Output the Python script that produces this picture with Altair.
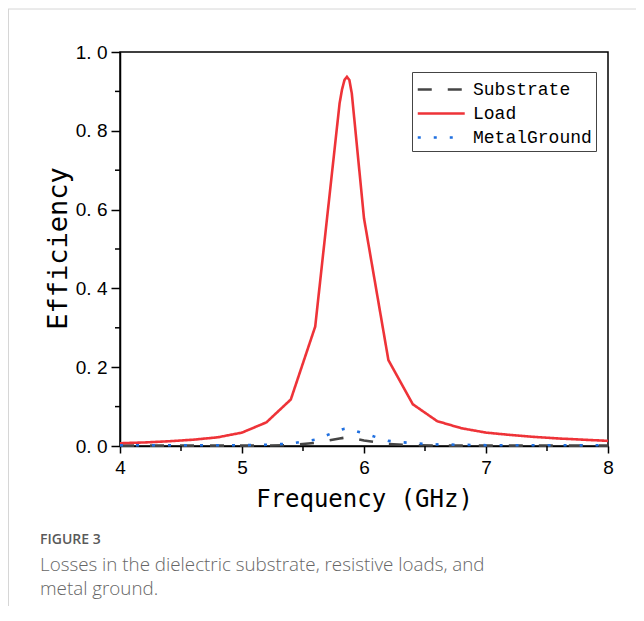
import altair as alt
import pandas as pd

# ---- data ----
freq = [4.0, 4.2, 4.4, 4.6, 4.8, 5.0, 5.2, 5.4, 5.6, 5.8, 5.82, 5.84, 5.86, 5.88,
        5.9, 6.0, 6.2, 6.4, 6.6, 6.8, 7.0, 7.2, 7.4, 7.6, 7.8, 8.0]
load = [0.007, 0.009, 0.012, 0.016, 0.022, 0.034, 0.060, 0.118, 0.303, 0.870, 0.905,
        0.929, 0.937, 0.929, 0.895, 0.578, 0.218, 0.106, 0.063, 0.045, 0.034, 0.028,
        0.023, 0.019, 0.016, 0.013]
substrate = [0.001, 0.001, 0.001, 0.001, 0.001, 0.001, 0.001, 0.002, 0.008, 0.019, 0.020,
             0.021, 0.022, 0.021, 0.020, 0.014, 0.005, 0.002, 0.001, 0.001, 0.001, 0.001,
             0.001, 0.001, 0.001, 0.001]
metal = [0.002, 0.002, 0.002, 0.002, 0.002, 0.002, 0.003, 0.006, 0.016, 0.040, 0.042,
         0.044, 0.045, 0.043, 0.041, 0.032, 0.013, 0.007, 0.004, 0.003, 0.002, 0.002,
         0.002, 0.002, 0.002, 0.002]
series_names = ["Substrate", "Load", "MetalGround"]
series_colors = ["#454545", "#ee3338", "#1f6fe0"]
series_dash = [[14, 16], [1, 0], [3, 13]]
x_ticks = [4, 5, 6, 7, 8]
y_ticks = [0.0, 0.2, 0.4, 0.6, 0.8, 1.0]
x_minor = [4.5, 5.5, 6.5, 7.5]
y_minor = [0.1, 0.3, 0.5, 0.7, 0.9]
caption_head = "FIGURE 3"
caption_lines = ["Losses in the dielectric substrate, resistive loads, and", "metal ground."]

rows = []
for name, vals in zip(series_names, [substrate, load, metal]):
    for f, v in zip(freq, vals):
        rows.append({"freq": f, "value": v, "series": name})
df = pd.DataFrame(rows)

W, H = 488, 394

xscale = alt.Scale(domain=[4, 8], nice=False, zero=False)
yscale = alt.Scale(domain=[0, 1], nice=False, zero=False)

xaxis = alt.Axis(
    values=x_ticks, format="d", title="Frequency (GHz)", grid=False, labelFlush=False,
    tickSize=7, tickWidth=1.5, tickColor="#000", domainColor="#000", domainWidth=1.5,
    labelFont="Liberation Sans", labelFontSize=19, labelColor="#000", labelPadding=5,
    titleFont="DejaVu Sans Mono", titleFontSize=24, titleFontWeight="normal",
    titleColor="#000", titleBaseline="alphabetic", titleY=60)
yaxis = alt.Axis(
    values=y_ticks, title="Efficiency", grid=False, labelFlush=False,
    labelExpr="replace(format(datum.value, '.1f'), '.', '. ')",
    tickSize=9, tickWidth=1.5, tickColor="#000", domainColor="#000", domainWidth=1.5,
    labelFont="Liberation Sans", labelFontSize=19, labelColor="#000", labelPadding=4,
    titleFont="DejaVu Sans Mono", titleFontSize=27, titleFontWeight="normal",
    titleColor="#000", titleBaseline="alphabetic", titleAlign="center",
    titleAngle=270, titleX=-54, titleY=196)

lines = alt.Chart(df).mark_line(strokeWidth=2.6).encode(
    x=alt.X("freq:Q", scale=xscale, axis=xaxis),
    y=alt.Y("value:Q", scale=yscale, axis=yaxis),
    color=alt.Color("series:N", scale=alt.Scale(domain=series_names, range=series_colors),
                    legend=alt.Legend(title=None)),
    strokeDash=alt.StrokeDash("series:N", scale=alt.Scale(domain=series_names, range=series_dash),
                              legend=alt.Legend(title=None)),
    order=alt.Order("series:N"),
)

ymin_df = pd.DataFrame({"value": y_minor})
y_minor_ticks = alt.Chart(ymin_df).mark_rule(color="#000", strokeWidth=1.5).encode(
    y=alt.Y("value:Q", scale=yscale, axis=yaxis),
    x=alt.value(-5), x2=alt.value(0))

xmin_df = pd.DataFrame({"freq": x_minor})
x_minor_ticks = alt.Chart(xmin_df).mark_rule(color="#000", strokeWidth=1.5).encode(
    x=alt.X("freq:Q", scale=xscale, axis=xaxis),
    y=alt.value(H), y2=alt.value(H + 5))

one = alt.Data(values=[{}])
border_left = alt.Chart(one).mark_rule(color="#d6d6d6", strokeWidth=1).encode(
    x=alt.value(-111.5), y=alt.value(-43), y2=alt.value(600))
border_top = alt.Chart(one).mark_rule(color="#d6d6d6", strokeWidth=1).encode(
    x=alt.value(-112), x2=alt.value(520), y=alt.value(-43))

cap0 = alt.Chart(one).mark_text(text=caption_head, align="left", baseline="middle",
                                font="Open Sans", fontSize=14, fontWeight=600, color="#5a5a5a").encode(
    x=alt.value(-80), y=alt.value(488))
cap1 = alt.Chart(one).mark_text(text=caption_lines[0], align="left", baseline="middle",
                                font="Open Sans", fontSize=18.8, fontWeight=300, color="#666666").encode(
    x=alt.value(-80), y=alt.value(513))
cap2 = alt.Chart(one).mark_text(text=caption_lines[1], align="left", baseline="middle",
                                font="Open Sans", fontSize=18.8, fontWeight=300, color="#666666").encode(
    x=alt.value(-80), y=alt.value(537))

chart = alt.layer(
    border_left, border_top, lines, y_minor_ticks, x_minor_ticks, cap0, cap1, cap2
).properties(
    width=W, height=H,
    autosize=alt.AutoSizeParams(type="none"),
    padding={"left": 112, "top": 44, "right": 28, "bottom": 160},
).configure_view(
    stroke="#000", strokeWidth=1.5
).configure_legend(
    orient="none", legendX=292, legendY=20, padding=4,
    strokeColor="#444", fillColor="#fff", cornerRadius=0,
    labelFont="Liberation Mono", labelFontSize=18, labelColor="#000",
    symbolType="M-1,0H3", symbolSize=552, symbolStrokeWidth=2.6,
    labelOffset=30, rowPadding=1, labelLimit=300,
)

chart.save("out.html", embed_options={"renderer": "svg", "actions": False})
